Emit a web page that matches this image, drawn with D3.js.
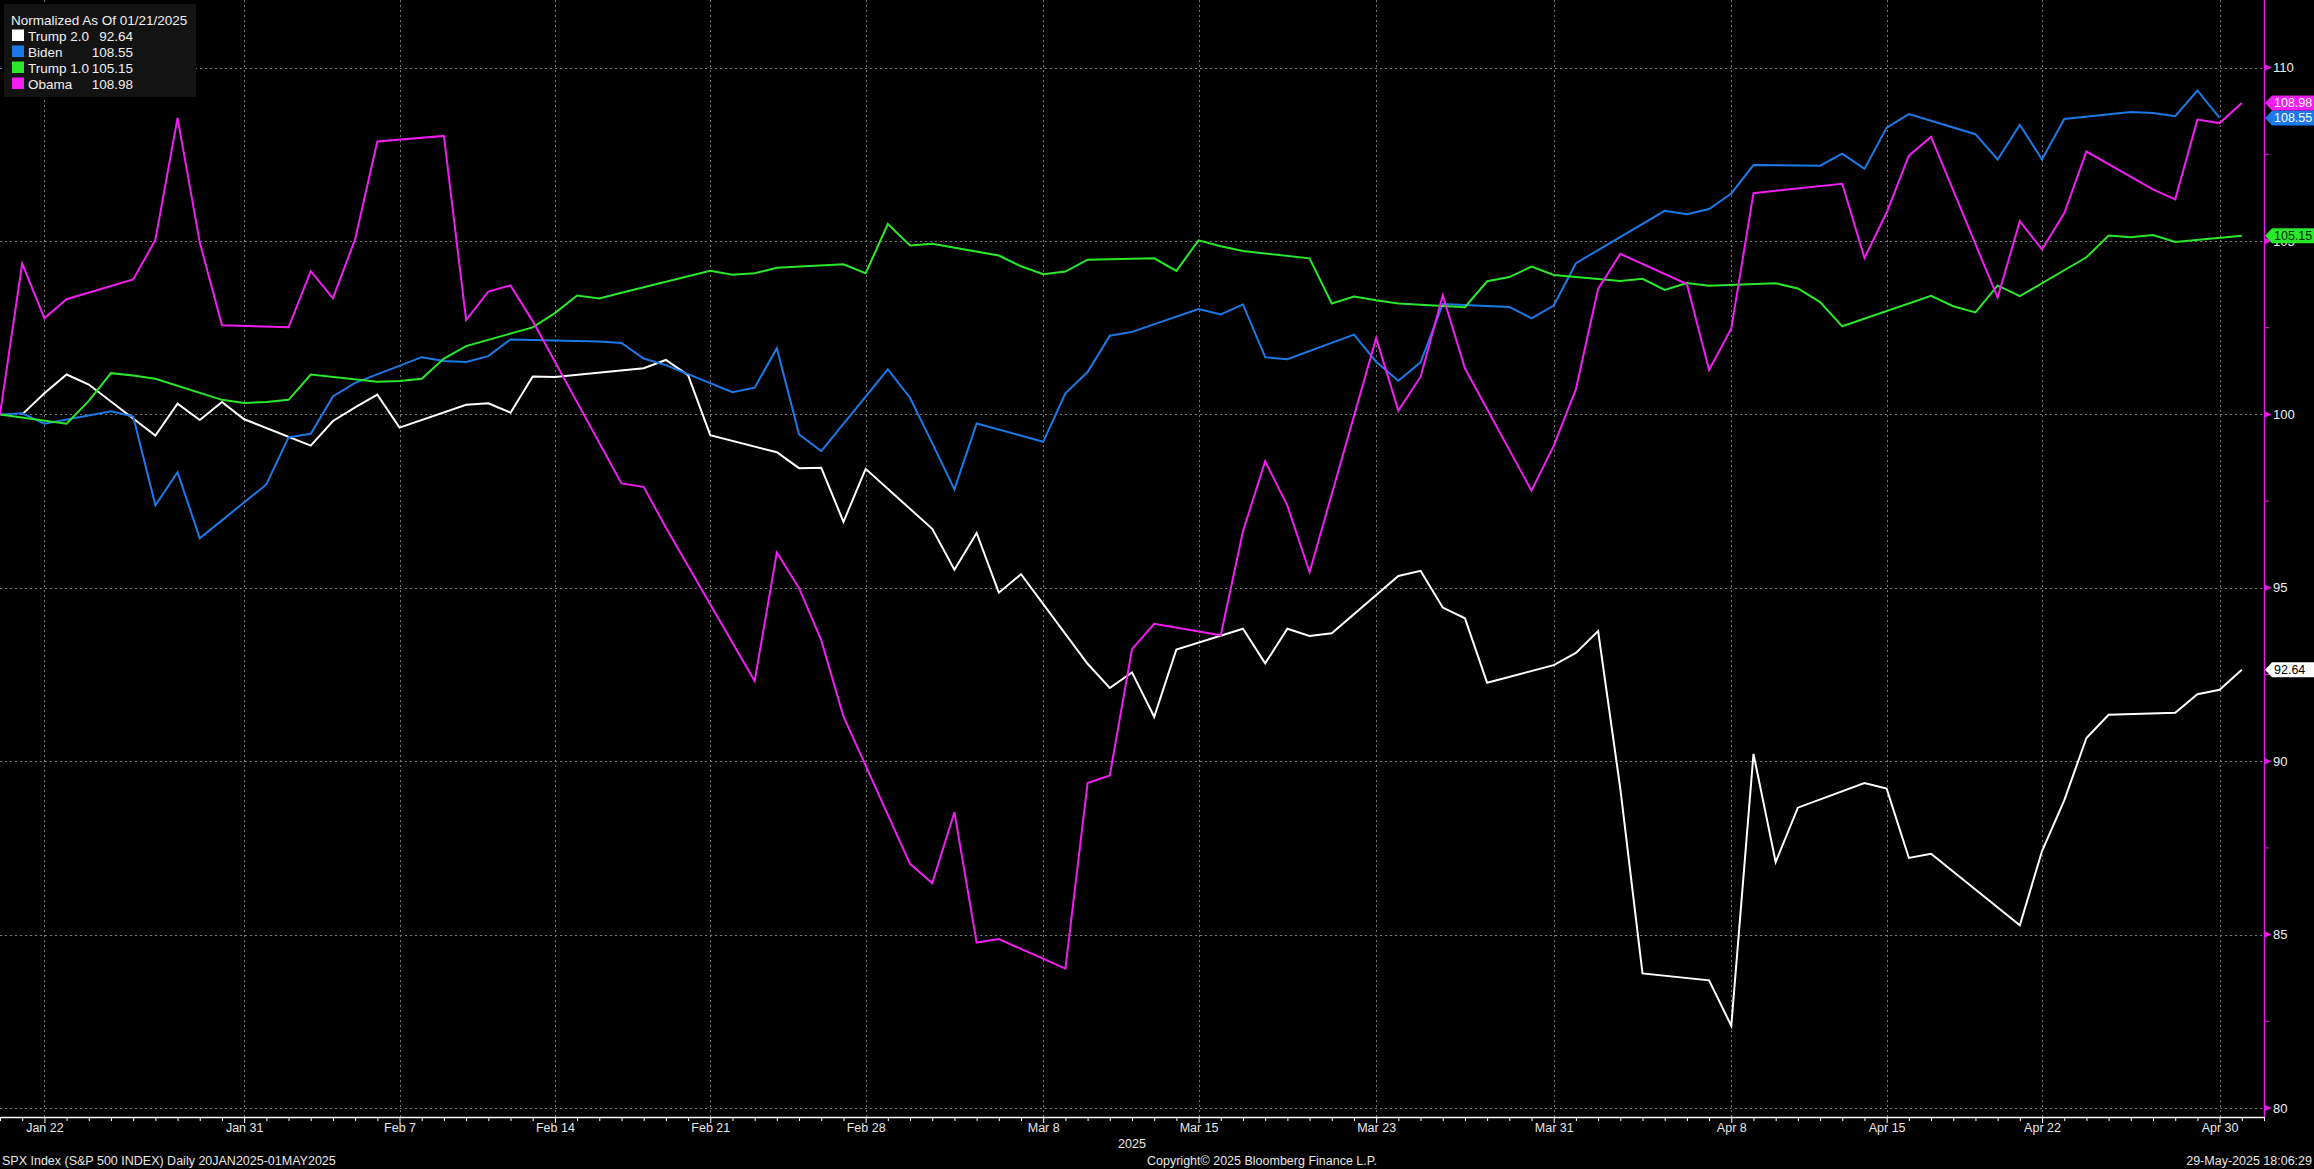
<!DOCTYPE html>
<html>
<head>
<meta charset="utf-8">
<script src="https://cdn.jsdelivr.net/npm/d3@7"></script>
<style>
  html, body { margin: 0; padding: 0; background: #000; overflow: hidden; }
  svg { display: block; }
  text { font-family: "Liberation Sans", Arial, sans-serif; }
</style>
</head>
<body>
<svg id="chart" width="2314" height="1169"></svg>
<script>
// ---------------- DATA ----------------
const seriesNames  = ["Trump 2.0", "Biden", "Trump 1.0", "Obama"];
const seriesColors = ["#ffffff", "#1c7ae8", "#2ae82a", "#f01ef0"];
const tagTextColors = ["#000000", "#ffffff", "#002a00", "#ffffff"];
const legendTitle = "Normalized As Of 01/21/2025";

// Trump 2.0 (2025)
const trump2Dates = ["01-21","01-22","01-23","01-24","01-27","01-28","01-29","01-30","01-31",
  "02-03","02-04","02-05","02-06","02-07","02-10","02-11","02-12","02-13","02-14",
  "02-18","02-19","02-20","02-21","02-24","02-25","02-26","02-27","02-28",
  "03-03","03-04","03-05","03-06","03-07","03-10","03-11","03-12","03-13","03-14",
  "03-17","03-18","03-19","03-20","03-21","03-24","03-25","03-26","03-27","03-28",
  "03-31","04-01","04-02","04-03","04-04","04-07","04-08","04-09","04-10","04-11",
  "04-14","04-15","04-16","04-17","04-21","04-22","04-23","04-24","04-25",
  "04-28","04-29","04-30","05-01"];
const trump2Values = [100.00,100.61,101.15,100.86,99.39,100.31,99.84,100.36,99.86,
  99.10,99.81,100.20,100.57,99.62,100.28,100.32,100.05,101.09,101.08,
  101.33,101.57,101.13,99.40,98.91,98.45,98.46,96.90,98.43,
  96.70,95.52,96.58,94.86,95.39,92.81,92.11,92.56,91.28,93.22,
  93.82,92.82,93.82,93.61,93.69,95.34,95.49,94.43,94.12,92.26,
  92.77,93.12,93.75,89.21,83.88,83.68,82.37,90.21,87.09,88.66,
  89.37,89.21,87.21,87.33,85.27,87.41,88.87,90.67,91.34,
  91.40,91.93,92.06,92.64];

// Biden (2021 sessions, placed on the same month/day)
const bidenDates = ["01-20","01-21","01-22","01-25","01-26","01-27","01-28","01-29",
  "02-01","02-02","02-03","02-04","02-05","02-08","02-09","02-10","02-11","02-12",
  "02-16","02-17","02-18","02-19","02-22","02-23","02-24","02-25","02-26",
  "03-01","03-02","03-03","03-04","03-05","03-08","03-09","03-10","03-11","03-12",
  "03-15","03-16","03-17","03-18","03-19","03-22","03-23","03-24","03-25","03-26",
  "03-29","03-30","03-31","04-01","04-05","04-06","04-07","04-08","04-09",
  "04-12","04-13","04-14","04-15","04-16","04-19","04-20","04-21","04-22","04-23",
  "04-26","04-27","04-28","04-29","04-30"];
const bidenValues = [100.00,100.03,99.73,100.09,99.94,97.38,98.33,96.43,
  97.98,99.34,99.44,100.52,100.91,101.65,101.54,101.51,101.68,102.16,
  102.10,102.06,101.61,101.42,100.64,100.77,101.91,99.42,98.94,
  101.30,100.48,99.17,97.84,99.74,99.21,100.61,101.22,102.27,102.38,
  103.04,102.88,103.17,101.65,101.59,102.30,101.52,100.97,101.50,103.18,
  103.10,102.77,103.14,104.36,105.87,105.77,105.92,106.37,107.19,
  107.17,107.52,107.08,108.27,108.66,108.08,107.35,108.35,107.35,108.52,
  108.72,108.69,108.60,109.34,108.55];

// Trump 1.0 (2017 sessions, placed on the same month/day)
const trump1Dates = ["01-20","01-23","01-24","01-25","01-26","01-27","01-30","01-31",
  "02-01","02-02","02-03","02-06","02-07","02-08","02-09","02-10","02-13","02-14",
  "02-15","02-16","02-17","02-21","02-22","02-23","02-24","02-27","02-28",
  "03-01","03-02","03-03","03-06","03-07","03-08","03-09","03-10","03-13","03-14",
  "03-15","03-16","03-17","03-20","03-21","03-22","03-23","03-24","03-27","03-28",
  "03-29","03-30","03-31","04-03","04-04","04-05","04-06","04-07","04-10","04-11",
  "04-12","04-13","04-17","04-18","04-19","04-20","04-21","04-24","04-25","04-26",
  "04-27","04-28","05-01"];
const trump1Values = [100.00,99.73,100.39,101.19,101.12,101.03,100.42,100.33,
  100.36,100.42,101.15,100.94,100.96,101.03,101.61,101.97,102.51,102.92,
  103.43,103.34,103.51,104.14,104.03,104.07,104.23,104.33,104.07,
  105.49,104.87,104.92,104.58,104.27,104.04,104.12,104.46,104.50,104.14,
  105.02,104.85,104.71,104.50,103.20,103.40,103.29,103.20,103.09,103.84,
  103.96,104.26,104.02,103.85,103.91,103.59,103.79,103.71,103.78,103.63,
  103.24,102.54,103.42,103.12,102.94,103.72,103.41,104.53,105.16,105.11,
  105.17,104.97,105.15];

// Obama (2009 sessions, placed on the same month/day)
const obamaDates = ["01-20","01-21","01-22","01-23","01-26","01-27","01-28","01-29","01-30",
  "02-02","02-03","02-04","02-05","02-06","02-09","02-10","02-11","02-12","02-13",
  "02-17","02-18","02-19","02-20","02-23","02-24","02-25","02-26","02-27",
  "03-02","03-03","03-04","03-05","03-06","03-09","03-10","03-11","03-12","03-13",
  "03-16","03-17","03-18","03-19","03-20","03-23","03-24","03-25","03-26","03-27",
  "03-30","03-31","04-01","04-02","04-03","04-06","04-07","04-08","04-09",
  "04-13","04-14","04-15","04-16","04-17","04-20","04-21","04-22","04-23","04-24",
  "04-27","04-28","04-29","04-30","05-01"];
const obamaValues = [100.00,104.35,102.77,103.32,103.89,105.03,108.55,104.96,102.57,
  102.51,104.13,103.35,105.05,107.87,108.03,102.72,103.54,103.72,102.69,
  98.01,97.91,96.74,95.63,92.31,96.02,94.99,93.49,91.29,
  87.04,86.48,88.53,84.77,84.87,84.02,89.37,89.59,93.23,93.96,
  93.63,96.63,98.65,97.37,95.45,102.20,100.11,101.08,103.43,101.33,
  97.80,99.09,100.73,103.62,104.63,103.76,101.28,102.48,106.38,
  106.65,104.51,105.82,107.46,108.00,103.37,105.57,104.76,105.80,107.58,
  106.49,106.20,108.50,108.40,108.98];

// Axis ticks / labels
const xTickDates  = ["01-22","01-31","02-07","02-14","02-21","02-28","03-08","03-15","03-23","03-31","04-08","04-15","04-22","04-30"];
const xTickLabels = ["Jan 22","Jan 31","Feb 7","Feb 14","Feb 21","Feb 28","Mar 8","Mar 15","Mar 23","Mar 31","Apr 8","Apr 15","Apr 22","Apr 30"];
const yTicks      = [80, 85, 90, 95, 100, 105, 110];
const yMinorTicks = [82.5, 87.5, 92.5, 97.5, 102.5, 107.5];
const xStart = "01-20", xEnd = "05-02";
const yearLabel = "2025";
const footerLeft   = "SPX Index (S&P 500 INDEX)  Daily 20JAN2025-01MAY2025";
const footerCenter = "Copyright\u00A9 2025 Bloomberg Finance L.P.";
const footerRight  = "29-May-2025 18:06:29";

// ---------------- CHART ----------------
const parse = s => d3.utcParse("%Y-%m-%d")("2025-" + s);
const allDates  = [trump2Dates, bidenDates, trump1Dates, obamaDates];
const allValues = [trump2Values, bidenValues, trump1Values, obamaValues];
const series = seriesNames.map((name, i) => ({
  name, color: seriesColors[i], tagText: tagTextColors[i],
  points: allDates[i].map((d, j) => ({ date: parse(d), value: allValues[i][j] }))
}));

const W = 2314, H = 1169;
const plotLeft = 0, plotRight = 2264, plotTop = 0, plotBottom = 1117;

const svg = d3.select("#chart");
svg.append("rect").attr("width", W).attr("height", H).attr("fill", "#000");

const x = d3.scaleUtc().domain([parse(xStart), parse(xEnd)]).range([plotLeft, plotRight]);
const y = d3.scaleLinear().domain([80, 110]).range([1108, 67.6]);

// grid
const grid = svg.append("g").attr("stroke", "#7a7a7a").attr("stroke-width", 1)
  .attr("stroke-dasharray", "2,3").attr("shape-rendering", "crispEdges");
grid.selectAll("line.h").data(yTicks).join("line").attr("class", "h")
  .attr("x1", plotLeft).attr("x2", plotRight)
  .attr("y1", d => Math.round(y(d)) + 0.5).attr("y2", d => Math.round(y(d)) + 0.5);
grid.selectAll("line.v").data(xTickDates.map(parse)).join("line").attr("class", "v")
  .attr("y1", plotTop).attr("y2", plotBottom)
  .attr("x1", d => Math.round(x(d)) + 0.5).attr("x2", d => Math.round(x(d)) + 0.5);

// lines
const line = d3.line().x(d => x(d.date)).y(d => y(d.value));
svg.append("g").selectAll("path").data(series).join("path")
  .attr("d", d => line(d.points))
  .attr("fill", "none")
  .attr("stroke", d => d.color)
  .attr("stroke-width", 2)
  .attr("stroke-linejoin", "miter");

// bottom axis
const labelMap = new Map(xTickDates.map((d, i) => [+parse(d), xTickLabels[i]]));
const dayTicks = d3.utcDay.range(parse(xStart), d3.utcDay.offset(parse(xEnd), 1));
const xAxis = d3.axisBottom(x).tickValues(dayTicks).tickSizeInner(4).tickSizeOuter(0).tickPadding(2)
  .tickFormat(d => labelMap.get(+d) || "");
const gx = svg.append("g").attr("transform", `translate(0,${plotBottom})`).call(xAxis);
gx.select(".domain").attr("stroke", "#ffffff").attr("stroke-width", 1.5);
gx.selectAll(".tick line").attr("stroke", "#ffffff");
gx.selectAll(".tick text").attr("fill", "#e8e8e8").attr("font-size", 12.5)
  .attr("font-family", '"Liberation Sans", Arial, sans-serif');
gx.selectAll(".tick").filter(d => labelMap.has(+d)).select("line").attr("y2", 6);

svg.append("text").attr("x", (plotLeft + plotRight) / 2).attr("y", 1148)
  .attr("text-anchor", "middle").attr("fill", "#e8e8e8").attr("font-size", 12.5).text(yearLabel);

// right axis
const yAxis = d3.axisRight(y).tickValues(yTicks).tickSize(0).tickPadding(9).tickFormat(d3.format("d"));
const gy = svg.append("g").attr("transform", `translate(${plotRight},0)`).call(yAxis);
gy.select(".domain").remove();
gy.selectAll(".tick text").attr("fill", "#f0f0f0").attr("font-size", 13)
  .attr("font-family", '"Liberation Sans", Arial, sans-serif');
svg.append("line").attr("x1", plotRight + 0.5).attr("x2", plotRight + 0.5)
  .attr("y1", plotTop).attr("y2", plotBottom).attr("stroke", "#e020e0").attr("stroke-width", 1.5);
svg.append("g").selectAll("path").data(yTicks).join("path")
  .attr("d", d => `M${plotRight},${y(d) - 3.5}L${plotRight + 8},${y(d)}L${plotRight},${y(d) + 3.5}Z`)
  .attr("fill", "#e020e0");
svg.append("g").selectAll("line").data(yMinorTicks).join("line")
  .attr("x1", plotRight).attr("x2", plotRight + 5)
  .attr("y1", d => y(d)).attr("y2", d => y(d)).attr("stroke", "#e020e0").attr("stroke-width", 1);

// last-value tags
const tags = svg.append("g").selectAll("g").data(series).join("g")
  .attr("transform", d => `translate(${plotRight + 1},${y(d.points[d.points.length - 1].value)})`);
tags.append("path").attr("d", `M0,0L7,-7.5L${W - plotRight},-7.5L${W - plotRight},7.5L7,7.5Z`)
  .attr("fill", d => d.color);
tags.append("text").attr("x", 9).attr("y", 4.5).attr("font-size", 12.5)
  .attr("fill", d => d.tagText)
  .text(d => d.points[d.points.length - 1].value.toFixed(2));

// legend
const lg = svg.append("g");
lg.append("rect").attr("x", 4).attr("y", 4).attr("width", 192).attr("height", 93).attr("fill", "#131313");
lg.append("text").attr("x", 11).attr("y", 25).attr("fill", "#f0f0f0").attr("font-size", 13.5).text(legendTitle);
const rows = lg.selectAll("g.row").data(series).join("g").attr("class", "row")
  .attr("transform", (d, i) => `translate(0,${41 + i * 16})`);
rows.append("rect").attr("x", 12).attr("y", -11.5).attr("width", 12).attr("height", 11.5).attr("fill", d => d.color);
rows.append("text").attr("x", 28).attr("y", 0).attr("fill", "#f0f0f0").attr("font-size", 13.5).text(d => d.name);
rows.append("text").attr("x", 133).attr("y", 0).attr("text-anchor", "end").attr("fill", "#f0f0f0")
  .attr("font-size", 13.5).text(d => d.points[d.points.length - 1].value.toFixed(2));

// footer
svg.append("text").attr("x", 2).attr("y", 1165).attr("fill", "#e8e8e8").attr("font-size", 12.5).text(footerLeft);
svg.append("text").attr("x", 1262).attr("y", 1165).attr("text-anchor", "middle").attr("fill", "#e8e8e8").attr("font-size", 12.5).text(footerCenter);
svg.append("text").attr("x", 2312).attr("y", 1165).attr("text-anchor", "end").attr("fill", "#e8e8e8").attr("font-size", 12.5).text(footerRight);
</script>
</body>
</html>
